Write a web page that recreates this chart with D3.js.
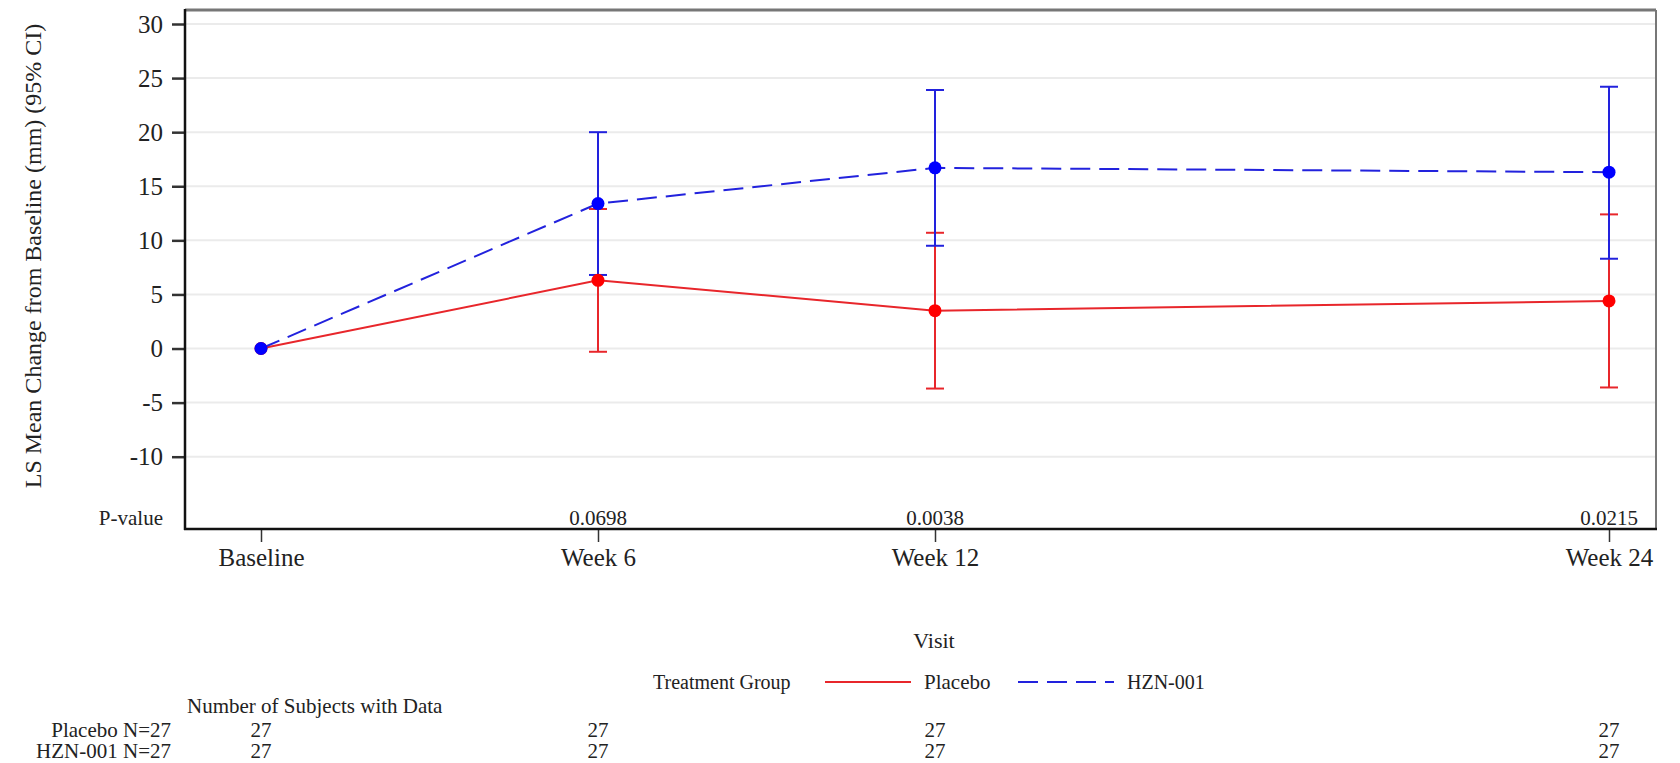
<!DOCTYPE html>
<html>
<head>
<meta charset="utf-8">
<script src="https://cdn.jsdelivr.net/npm/d3@7"></script>
<style>
  body { margin: 0; background: #fff; }
  svg text { font-family: "Liberation Serif", "Times New Roman", serif; fill: #222; }
</style>
</head>
<body>
<svg id="chart" width="1680" height="763"></svg>
<script>
// visits (week number used for the x position)
const visits = ["Baseline", "Week 6", "Week 12", "Week 24"];
const weeks = [0, 6, 12, 24];

// LS mean change and 95% CI
const placeboMean = [0, 6.3, 3.5, 4.4];
const placeboLow = [null, -0.3, -3.7, -3.6];
const placeboHigh = [null, 12.9, 10.7, 12.4];

const hznMean = [0, 13.4, 16.7, 16.3];
const hznLow = [null, 6.8, 9.5, 8.3];
const hznHigh = [null, 20.0, 23.9, 24.2];

const pValues = ["", "0.0698", "0.0038", "0.0215"];
const placeboN = [27, 27, 27, 27];
const hznN = [27, 27, 27, 27];
const yTicks = [-10, -5, 0, 5, 10, 15, 20, 25, 30];

const svg = d3.select("#chart");
const plotLeft = 185, plotRight = 1656, plotTop = 10, plotBottom = 529;

const x = d3.scaleLinear().domain([0, 24]).range([261, 1609]);
const y = d3.scaleLinear().domain([-10, 30]).range([456.7, 24]);

// gridlines
svg.append("g").selectAll("line")
  .data(yTicks)
  .enter().append("line")
    .attr("x1", plotLeft).attr("x2", plotRight)
    .attr("y1", d => y(d)).attr("y2", d => y(d))
    .attr("stroke", "#ebebeb").attr("stroke-width", 2);

// frame: top and right are grey, left and bottom black
svg.append("line").attr("x1", plotLeft).attr("x2", plotRight).attr("y1", plotTop).attr("y2", plotTop)
  .attr("stroke", "#777").attr("stroke-width", 3);
svg.append("line").attr("x1", plotRight).attr("x2", plotRight).attr("y1", plotTop).attr("y2", plotBottom)
  .attr("stroke", "#777").attr("stroke-width", 2);

// y axis
const yAxis = svg.append("g")
  .attr("transform", "translate(" + plotLeft + ",0)")
  .call(d3.axisLeft(y).tickValues(yTicks).tickSize(13).tickPadding(9).tickFormat(d3.format("d")));
yAxis.select(".domain").remove();
yAxis.selectAll(".tick line").attr("stroke", "#333").attr("stroke-width", 2.5);
yAxis.selectAll(".tick text")
  .style("font-family", "Liberation Serif").style("font-size", "25px").attr("fill", "#222")
  .text(d => d < 0 ? "-" + Math.abs(d) : d);
svg.append("line").attr("x1", plotLeft).attr("x2", plotLeft).attr("y1", plotTop - 1).attr("y2", plotBottom + 1)
  .attr("stroke", "#111").attr("stroke-width", 2.5);

// x axis
const xAxis = svg.append("g")
  .attr("transform", "translate(0," + plotBottom + ")")
  .call(d3.axisBottom(x).tickValues(weeks).tickSize(13).tickPadding(6)
    .tickFormat((d, i) => visits[i]));
xAxis.select(".domain").remove();
xAxis.selectAll(".tick line").attr("stroke", "#333").attr("stroke-width", 1.5);
xAxis.selectAll(".tick text")
  .style("font-family", "Liberation Serif").style("font-size", "25px").attr("fill", "#222");
svg.append("line").attr("x1", plotLeft - 1).attr("x2", plotRight + 1).attr("y1", plotBottom).attr("y2", plotBottom)
  .attr("stroke", "#111").attr("stroke-width", 2.5);

// y title
svg.append("text")
  .attr("transform", "translate(33,256) rotate(-90)")
  .attr("text-anchor", "middle").attr("dominant-baseline", "central")
  .style("font-size", "24px")
  .text("LS Mean Change from Baseline (mm) (95% CI)");

// x title
svg.append("text")
  .attr("x", 934).attr("y", 648)
  .attr("text-anchor", "middle")
  .style("font-size", "22px")
  .text("Visit");

// p-values
svg.append("text").attr("x", 163).attr("y", 525).attr("text-anchor", "end")
  .style("font-size", "21px").text("P-value");
svg.append("g").selectAll("text")
  .data(pValues)
  .enter().append("text")
    .attr("x", (d, i) => x(weeks[i])).attr("y", 525)
    .attr("text-anchor", "middle").style("font-size", "21px")
    .text(d => d);

function drawSeries(mean, low, high, color, dash) {
  const pts = weeks.map((w, i) => ({ w: w, m: mean[i], lo: low[i], hi: high[i] }));
  const line = d3.line().x(d => x(d.w)).y(d => y(d.m));
  svg.append("path").datum(pts)
    .attr("d", line).attr("fill", "none")
    .attr("stroke", color).attr("stroke-width", 2)
    .attr("stroke-dasharray", dash);
  const bars = pts.filter(d => d.lo !== null);
  const g = svg.append("g").attr("stroke", color).attr("stroke-width", 2);
  g.selectAll(".ci").data(bars).enter().append("line")
    .attr("x1", d => x(d.w)).attr("x2", d => x(d.w))
    .attr("y1", d => y(d.lo)).attr("y2", d => y(d.hi));
  g.selectAll(".capLo").data(bars).enter().append("line")
    .attr("x1", d => x(d.w) - 9).attr("x2", d => x(d.w) + 9)
    .attr("y1", d => y(d.lo)).attr("y2", d => y(d.lo));
  g.selectAll(".capHi").data(bars).enter().append("line")
    .attr("x1", d => x(d.w) - 9).attr("x2", d => x(d.w) + 9)
    .attr("y1", d => y(d.hi)).attr("y2", d => y(d.hi));
  return pts;
}

const redPts = drawSeries(placeboMean, placeboLow, placeboHigh, "#e8262b", null);
const bluePts = drawSeries(hznMean, hznLow, hznHigh, "#2222dd", "20,9");

svg.append("g").selectAll("circle").data(redPts).enter().append("circle")
  .attr("cx", d => x(d.w)).attr("cy", d => y(d.m)).attr("r", 6.5).attr("fill", "#ff0000");
svg.append("g").selectAll("circle").data(bluePts).enter().append("circle")
  .attr("cx", d => x(d.w)).attr("cy", d => y(d.m)).attr("r", 6.5).attr("fill", "#0000ff");

// legend
const legY = 682;
svg.append("text").attr("x", 653).attr("y", legY).attr("dominant-baseline", "central")
  .style("font-size", "20px").text("Treatment Group");
svg.append("line").attr("x1", 825).attr("x2", 911).attr("y1", legY).attr("y2", legY)
  .attr("stroke", "#e8262b").attr("stroke-width", 2);
svg.append("text").attr("x", 924).attr("y", legY).attr("dominant-baseline", "central")
  .style("font-size", "21px").text("Placebo");
svg.append("line").attr("x1", 1018).attr("x2", 1114).attr("y1", legY).attr("y2", legY)
  .attr("stroke", "#2222dd").attr("stroke-width", 2).attr("stroke-dasharray", "20,9");
svg.append("text").attr("x", 1127).attr("y", legY).attr("dominant-baseline", "central")
  .style("font-size", "20px").text("HZN-001");

// subjects table
svg.append("text").attr("x", 187).attr("y", 713)
  .style("font-size", "21px").text("Number of Subjects with Data");
const rows = [
  { label: "Placebo N=27", vals: placeboN, y: 737 },
  { label: "HZN-001 N=27", vals: hznN, y: 758 }
];
rows.forEach(r => {
  svg.append("text").attr("x", 171).attr("y", r.y).attr("text-anchor", "end")
    .style("font-size", "21px").text(r.label);
  svg.append("g").selectAll("text").data(r.vals).enter().append("text")
    .attr("x", (d, i) => x(weeks[i])).attr("y", r.y)
    .attr("text-anchor", "middle")
    .style("font-size", "21px").text(d => d);
});
</script>
</body>
</html>
